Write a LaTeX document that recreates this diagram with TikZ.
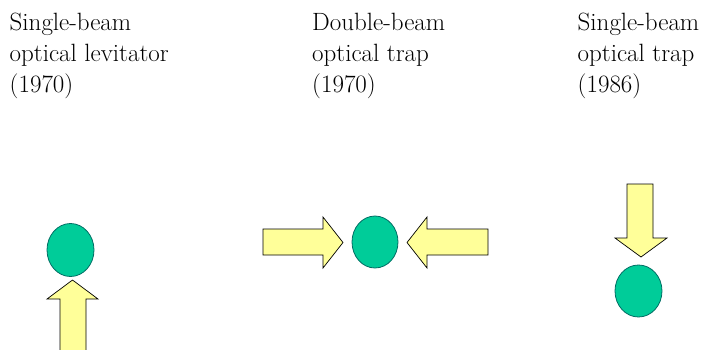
\documentclass[tikz,border=0pt]{standalone}
\usetikzlibrary{shapes.geometric}
\definecolor{beam}{RGB}{255,255,153}
\definecolor{bead}{RGB}{0,204,153}
\definecolor{beadline}{RGB}{0,110,100}
\tikzset{
  lbl/.style={anchor=north west,inner sep=0pt,align=left,font=\rmfamily\fontsize{25}{31}\selectfont},
  bead/.style={ellipse,draw=beadline,fill=bead,line width=0.8pt,inner sep=0pt},
  beamarrow/.style={draw=black,fill=beam,line width=0.7pt,line join=miter}
}
\begin{document}
\begin{tikzpicture}[x=1pt,y=-1pt]
\useasboundingbox (0,0) rectangle (710,349);
\clip (0,0) rectangle (710,349);
\fill[white] (0,0) rectangle (710,349);
% labels
\node[lbl] (t1) at (9.5,13) {Single-beam\\optical levitator\\(1970)};
\node[lbl] (t2) at (312,13) {Double-beam\\optical trap\\(1970)};
\node[lbl] (t3) at (577.5,13) {Single-beam\\optical trap\\(1986)};
% left: levitator
\node[bead,minimum width=47pt,minimum height=53pt] (b1) at (70.5,250) {};
\filldraw[beamarrow] (60,356) -- (60,299) -- (47,299) -- (72.5,280) -- (98,299) -- (86,299) -- (86,356);
% middle: double beam
\node[bead,minimum width=46pt,minimum height=52pt] (b2) at (375,242) {};
\filldraw[beamarrow] (263,229) -- (323,229) -- (323,217) -- (343,242.5) -- (323,268) -- (323,255) -- (263,255) -- cycle;
\filldraw[beamarrow] (488,229) -- (427,229) -- (427,217) -- (407,242.5) -- (427,268) -- (427,255) -- (488,255) -- cycle;
% right: single beam trap
\filldraw[beamarrow] (627,184) -- (653,184) -- (653,238) -- (667,238) -- (641,257) -- (615,238) -- (627,238) -- cycle;
\node[bead,minimum width=47pt,minimum height=52pt] (b3) at (638.5,291) {};
\end{tikzpicture}
\end{document}
